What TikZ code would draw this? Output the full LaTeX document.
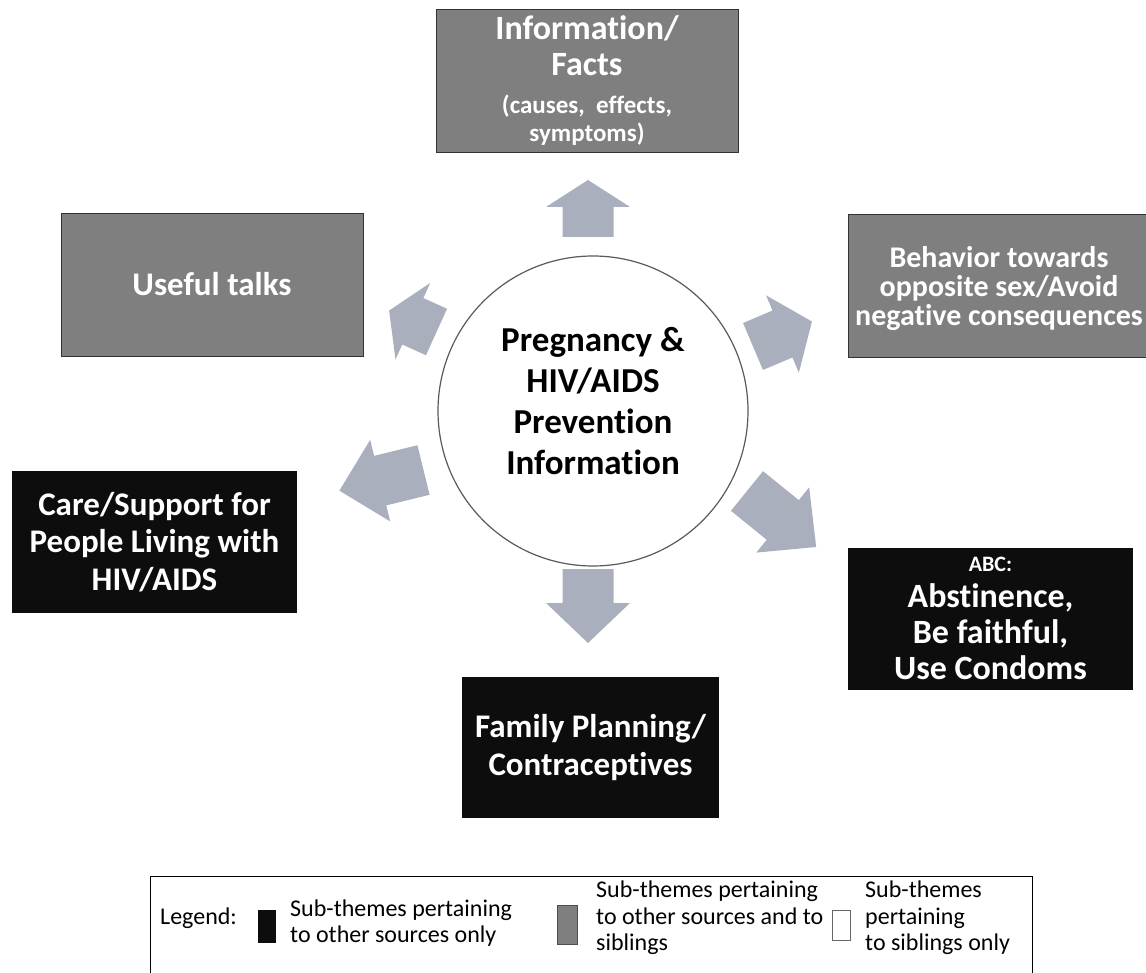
\documentclass[tikz,border=0pt]{standalone}
\usepackage{fontspec}
\setmainfont{Carlito}[Ligatures=NoCommon]
\definecolor{boxgrey}{RGB}{127,127,127}
\definecolor{boxblack}{RGB}{13,13,13}
\definecolor{arrowfill}{RGB}{170,175,190}
\definecolor{rimgrey}{RGB}{90,90,90}
\newcommand\fsz[2]{\fontsize{#1}{#2}\selectfont}
% block arrow: back-centre x, y, direction (degrees), shaft length, head length
\newcommand\blockarrow[5]{%
  \begin{scope}[shift={(#1,#2)},rotate=#3]
    \fill[arrowfill] (0,-25.5) -- (#4,-25.5) -- (#4,-42) -- ({#4+#5},0)
      -- (#4,42) -- (#4,25.5) -- (0,25.5) -- cycle;
  \end{scope}}
\begin{document}
\begin{tikzpicture}[x=1pt,y=-1pt,
  theme/.style={rectangle, inner sep=0pt, align=center, text=white,
    font=\bfseries\fsz{33}{37.5}},
  sharedbox/.style={theme, fill=boxgrey, draw=black!80, line width=0.8pt,
    minimum width=302pt, minimum height=143pt},
  otherbox/.style={theme, fill=boxblack, minimum width=285pt, minimum height=142pt},
  legtext/.style={anchor=west, align=left, inner sep=0pt, font=\fsz{24}{26.5}}]

\clip (0,0) rectangle (1146,973);
\fill[white] (0,0) rectangle (1146,973);

% central theme
\node[circle, draw=rimgrey, line width=1.2pt, fill=white, minimum size=310pt,
  inner sep=0pt] (hub) at (593,411) {};
\node[align=center, inner sep=0pt, font=\bfseries\fsz{35}{41}] (hubtext)
  at (593,401) {Pregnancy \&\\HIV/AIDS\\Prevention\\Information};

% arrows pointing out to the sub-themes
\blockarrow{588}{237}{90}{30}{27}
\blockarrow{753}{346.5}{23}{32}{32}
\blockarrow{747}{491}{-39}{46}{43}
\blockarrow{588}{569}{-90}{34}{40}
\blockarrow{423.5}{470}{193.8}{44.6}{42}
\blockarrow{436.5}{332}{155.6}{26}{26}

% sub-themes
\node[sharedbox] (info) at (587,80.5) {};
\node[align=center, inner sep=0pt, text=white, font=\bfseries\fsz{34}{36}]
  (infotext) at (info.center)
  {Information/\\Facts\\[2pt]\fsz{25}{28}(causes,~~effects,\\[-8pt]\fsz{25}{28}symptoms)};
\node[sharedbox] (talks) at (212,284.5) {Useful talks};
\node[sharedbox] (behaviour) at (999,286) {};
\node[align=center, inner sep=0pt, text=white, font=\bfseries\fsz{30}{29}]
  (behaviourtext) at ([yshift=-3pt]behaviour.center)
  {Behavior towards\\opposite sex/Avoid\\negative consequences};
\node[otherbox] (care) at (154.5,542)
  {Care/Support for\\People Living with\\HIV/AIDS};
\node[otherbox, font=\bfseries\fsz{34}{36}] (abc) at (990.5,618.5)
  {\fsz{22}{26}ABC:\\\fsz{34}{36}Abstinence,\\\fsz{34}{36}Be faithful,\\\fsz{34}{36}Use Condoms};
\node[otherbox, minimum width=257pt, minimum height=141pt] (fp) at (590.5,747.5)
  {Family Planning/\\Contraceptives};

% legend
\draw[line width=1pt] (150,876) rectangle (1032,976);
\node[legtext] (legendword) at (160,918) {Legend:};
\fill[boxblack] (258,910) rectangle (276,943);
\node[legtext] (legone) at (290,923) {Sub-themes pertaining\\to other sources only};
\filldraw[fill=boxgrey, draw=black!70] (557,905) rectangle (577,944);
\node[legtext] (legtwo) at (596,918) {Sub-themes pertaining\\to other sources and to\\siblings};
\draw[black!60] (832,910) rectangle (850,940);
\node[legtext] (legthree) at (865,918) {Sub-themes\\pertaining\\to siblings only};
\end{tikzpicture}
\end{document}
